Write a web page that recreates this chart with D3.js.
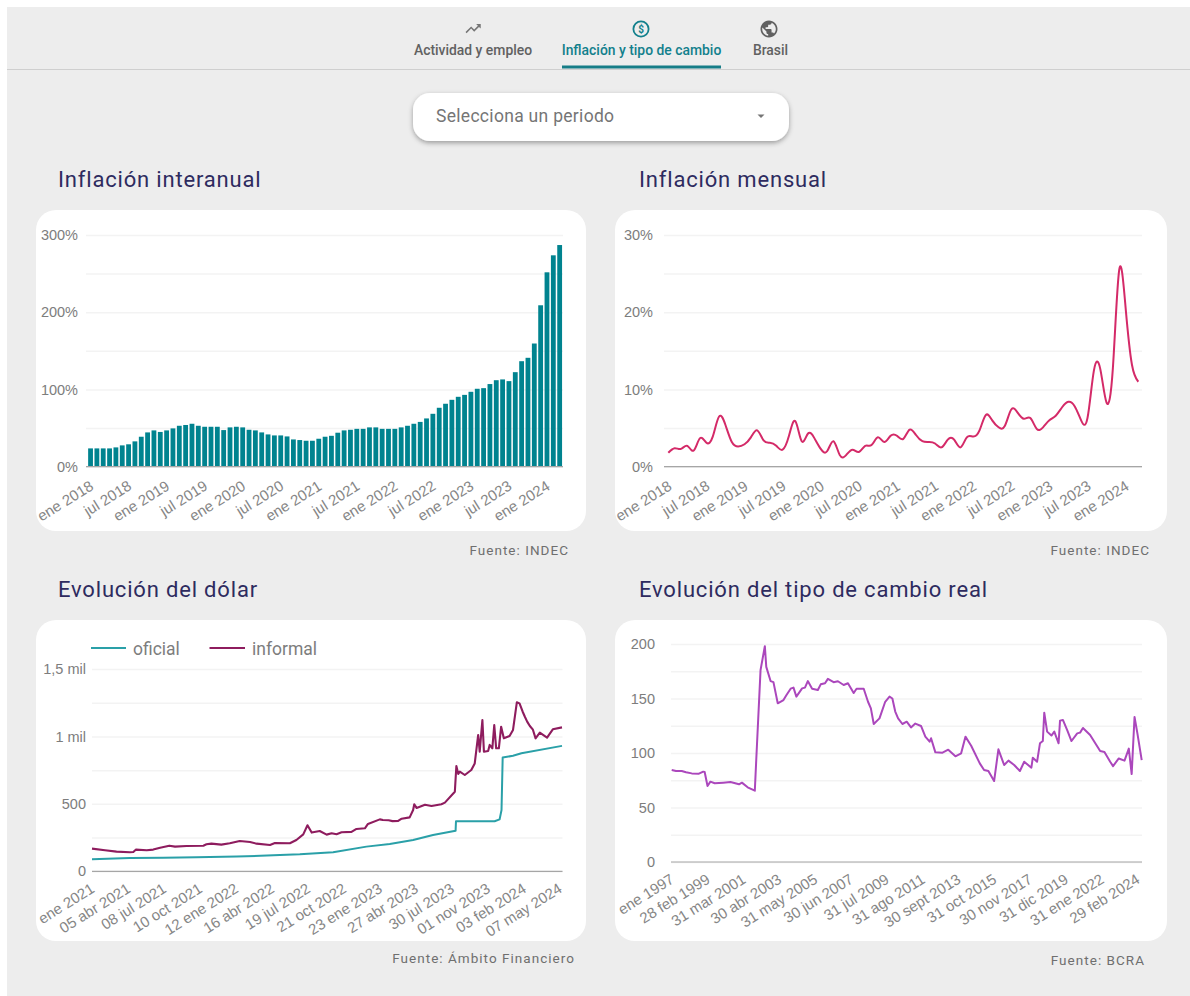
<!DOCTYPE html>
<html>
<head>
<meta charset="utf-8">
<script src="https://cdnjs.cloudflare.com/ajax/libs/d3/7.8.5/d3.min.js"></script>
<style>
    html, body { margin: 0; padding: 0; background: #fff; overflow: hidden; }
    svg { display: block; font-family: Roboto, sans-serif; }
    .tick text { fill: #7d7d7d; font-size: 14.5px; }
    .xaxis .tick text { fill: #868686; font-size: 15px; }
    .grid .tick line { stroke: #f3f3f3; stroke-width: 1.5; }
    .grid .domain, .xaxis .tick line { display: none; }
    .xaxis .domain { stroke: #a6a6a6; stroke-width: 1.2; }
    .titulo { fill: #2e2b5f; font-size: 22px; letter-spacing: 0.82px; }
    .fuente { fill: #6f6f6f; font-size: 13.5px; letter-spacing: 1.03px; text-anchor: end; }
    .tab { font-size: 13.9px; font-weight: 500; fill: #616161; text-anchor: middle; }
    .serie { fill: none; stroke-linejoin: round; }
</style>
</head>
<body>
<svg id="tablero" width="1190" height="996"></svg>
<script>
    // Inflacion interanual (%), ene 2018 - mar 2024
    var interanual = [
        23.7, 23.7, 23.7, 23.7, 25, 27.6, 29, 32.8, 38.8, 44.4, 47, 45,
        47, 49.6, 53, 54, 55.6, 53, 51.7, 51.7, 51.7, 47.4, 50.9, 51.7,
        50.9, 47.8, 47, 44.4, 41.8, 40.5, 40.5, 39.2, 35.3, 34.5, 33.6, 33.6,
        36.2, 38.8, 40, 44, 47, 47.8, 49, 49, 50.9, 50.9, 49, 49,
        49, 50.9, 53, 55.6, 58, 62.5, 68.5, 76.3, 81.5, 86.6, 90.5, 93,
        97, 100.9, 101.7, 107, 112, 113, 110.8, 122.4, 136.6, 141, 159.5, 209,
        251.7, 273.7, 287
    ];
    // Inflacion mensual (%), ene 2018 - mar 2024
    var mensual = [
        1.8, 2.4, 2.3, 2.7, 2.1, 3.7, 3.1, 3.9, 6.5, 5.4, 3.2, 2.6,
        2.9, 3.8, 4.7, 3.4, 3.1, 2.7, 2.2, 4.0, 5.9, 3.3, 4.3, 3.7,
        2.3, 2.0, 3.3, 1.5, 1.5, 2.2, 1.9, 2.7, 2.8, 3.8, 3.2, 4.0,
        4.0, 3.6, 4.8, 4.1, 3.3, 3.2, 3.0, 2.5, 3.5, 3.5, 2.5, 3.8,
        3.9, 4.7, 6.7, 6.0, 5.1, 5.3, 7.4, 7.0, 6.2, 6.3, 4.9, 5.1,
        6.0, 6.6, 7.7, 8.4, 7.8, 6.0, 6.3, 12.4, 12.7, 8.3, 12.8, 25.5,
        20.6, 13.2, 11.0
    ];
    var meses = ["ene", "feb", "mar", "abr", "may", "jun", "jul", "ago", "sept", "oct", "nov", "dic"];
    var periodos = interanual.map(function(d, i){ return meses[i % 12] + " " + (2018 + Math.floor(i / 12)); });

    // Dolar: dias desde el 1 ene 2021
    var oficialDias = [0, 99, 186, 273, 378, 491, 543, 630, 717, 778, 839, 891, 950, 951, 996, 1052, 1065, 1070, 1073, 1100, 1122, 1228];
    var oficial = [89, 99, 101, 104, 109, 121, 126, 141, 183, 203, 232, 269, 301, 371, 371, 371, 385, 455, 843, 857, 875, 930];
    var informalDias = [
        0, 34, 64, 99, 108, 115, 143, 160, 178, 202, 217, 247, 291, 299, 312, 338, 360, 386, 413, 430,
        465, 478, 517, 534, 552, 563, 574, 595, 613, 626, 639, 652, 678, 691, 713, 721, 752, 760, 775, 785,
        800, 809, 830, 839, 842, 848, 870, 887, 913, 922, 948, 952, 957, 961, 974, 991, 1000, 1009, 1013, 1020,
        1024, 1035, 1039, 1046, 1051, 1056, 1063, 1069, 1076, 1091, 1100, 1110, 1117, 1125, 1131, 1137, 1144, 1152, 1159, 1170,
        1189, 1204, 1228
    ];
    var informal = [
        168, 156, 146, 141, 143, 161, 156, 161, 175, 190, 183, 188, 190, 200, 205, 198, 208, 225, 217, 205,
        195, 210, 208, 232, 274, 341, 287, 299, 272, 282, 275, 289, 292, 314, 319, 351, 385, 380, 378, 372,
        373, 390, 400, 454, 497, 470, 494, 484, 497, 509, 590, 781, 722, 739, 714, 751, 800, 1011, 887, 1122,
        887, 892, 937, 912, 1085, 912, 912, 1072, 986, 1003, 1048, 1253, 1245, 1185, 1146, 1110, 1077, 1050, 986, 1028,
        991, 1053, 1067
    ];
    var dolarTickDias = [0, 94, 188, 282, 376, 470, 564, 658, 752, 846, 940, 1034, 1128, 1222];
    var dolarTicks = ["ene 2021", "05 abr 2021", "08 jul 2021", "10 oct 2021", "12 ene 2022", "16 abr 2022", "19 jul 2022",
        "21 oct 2022", "23 ene 2023", "27 abr 2023", "30 jul 2023", "01 nov 2023", "03 feb 2024", "07 may 2024"];

    // Tipo de cambio real: meses desde ene 1997
    var realMeses = [
        0, 3, 7, 10, 14, 19, 22, 23, 25, 27, 30, 36, 41, 47, 49, 53, 58, 59, 62, 65,
        66, 69, 71, 74, 78, 80, 83, 85, 87, 91, 93, 95, 98, 102, 104, 107, 109, 113, 116, 120,
        123, 127, 129, 134, 137, 139, 141, 145, 149, 152, 154, 156, 158, 161, 164, 167, 170, 174, 177, 180,
        181, 184, 189, 193, 198, 202, 205, 209, 215, 218, 221, 225, 228, 232, 235, 239, 243, 246, 251, 252,
        255, 257, 259, 260, 262, 265, 267, 270, 271, 273, 276, 279, 283, 285, 287, 292, 299, 302, 306, 308,
        312, 316, 319, 321, 323, 325, 328
    ];
    var real = [
        84.4, 83.5, 83.5, 82.3, 81.3, 81, 82.9, 82.6, 69.7, 73.7, 72.2, 72.8, 73.4, 71.3, 72.8, 68.5, 65.4, 93.6, 176, 198,
        179, 166, 165, 145.6, 148.6, 153, 159, 160, 151.7, 159.3, 160, 166, 159, 157.8, 163, 164, 168, 165, 165.8, 162.4,
        164, 155, 159, 159, 147, 141, 126.6, 131.8, 147, 151.7, 150, 138, 131.8, 126.6, 128.7, 123.5, 127, 124.8, 115, 110.4,
        113.5, 100.6, 100.3, 103, 97, 99.7, 115, 106.7, 90.5, 84.4, 83.5, 74.3, 103.4, 89, 93, 89, 83.5, 92, 86.5, 95.7,
        92, 108.9, 111, 137, 119.6, 116, 119.6, 108.9, 129.7, 130.3, 121, 111, 118, 118.7, 123, 116.5, 101.8, 101, 92, 88,
        95, 93, 104, 80.7, 133, 118, 93.5
    ];
    var realTickMeses = [0, 25, 50, 75, 100, 125, 150, 175, 200, 225, 250, 275, 300, 325];
    var realTicks = ["ene 1997", "28 feb 1999", "31 mar 2001", "30 abr 2003", "31 may 2005", "30 jun 2007", "31 jul 2009",
        "31 ago 2011", "30 sept 2013", "31 oct 2015", "30 nov 2017", "31 dic 2019", "31 ene 2022", "29 feb 2024"];

    var svg = d3.select("#tablero");

    var defs = svg.append("defs");
    var sombra = defs.append("filter").attr("id", "sombra")
        .attr("x", "-10%").attr("y", "-20%").attr("width", "120%").attr("height", "150%");
    sombra.append("feDropShadow").attr("dx", 0).attr("dy", 2).attr("stdDeviation", 2.5)
        .attr("flood-color", "#000").attr("flood-opacity", 0.35);

    // fondo
    svg.append("rect").attr("x", 7).attr("y", 7).attr("width", 1183).attr("height", 989).attr("fill", "#ededed");

    // pestanas
    svg.append("line").attr("x1", 7).attr("x2", 1190).attr("y1", 69.5).attr("y2", 69.5)
        .attr("stroke", "#cfcfcf").attr("stroke-width", 1);
    svg.append("rect").attr("x", 562).attr("y", 65.5).attr("width", 159).attr("height", 3).attr("fill", "#167d87");

    svg.append("path")
        .attr("d", "M16 6l2.29 2.29-4.88 4.88-4-4L2 16.59 3.41 18l6-6 4 4 6.3-6.29L22 12V6z")
        .attr("transform", "translate(464,19.5) scale(0.76)")
        .attr("fill", "#757575");
    svg.append("circle").attr("cx", 641).attr("cy", 29).attr("r", 7.6)
        .attr("fill", "none").attr("stroke", "#12808c").attr("stroke-width", 1.8);
    svg.append("text").attr("x", 641).attr("y", 32.5).attr("text-anchor", "middle")
        .attr("font-size", 10).attr("font-weight", 700).attr("fill", "#12808c").text("$");
    svg.append("path")
        .attr("d", "M12 2C6.48 2 2 6.48 2 12s4.48 10 10 10 10-4.48 10-10S17.52 2 12 2zm-1 17.93c-3.95-.49-7-3.85-7-7.93 0-.62.08-1.21.21-1.79L9 15v1c0 1.1.9 2 2 2v1.93zm6.9-2.54c-.26-.81-1-1.39-1.9-1.39h-1v-3c0-.55-.45-1-1-1H8v-2h2c.55 0 1-.45 1-1V7h2c1.1 0 2-.9 2-2v-.41c2.93 1.19 5 4.06 5 7.41 0 2.08-.8 3.97-2.1 5.39z")
        .attr("transform", "translate(758.8,18.8) scale(0.85)")
        .attr("fill", "#616161");

    svg.append("text").attr("class", "tab").attr("x", 473).attr("y", 55).text("Actividad y empleo");
    svg.append("text").attr("class", "tab").attr("x", 641.5).attr("y", 55)
        .style("fill", "#12808c").text("Inflación y tipo de cambio");
    svg.append("text").attr("class", "tab").attr("x", 770.5).attr("y", 55).text("Brasil");

    // selector
    svg.append("rect").attr("x", 413).attr("y", 93).attr("width", 376).attr("height", 48).attr("rx", 17)
        .attr("fill", "#fff").attr("filter", "url(#sombra)");
    svg.append("text").attr("x", 436).attr("y", 122).attr("font-size", 17.5).attr("letter-spacing", 0.3)
        .attr("fill", "#757575").text("Selecciona un periodo");
    svg.append("path").attr("d", "M757.5 114.5h7l-3.5 3.5z").attr("fill", "#757575");

    function tarjeta(x, w, y, h, titulo, tituloX, fuente, fuenteX, fuenteY)
    {
        svg.append("rect").attr("x", x).attr("y", y).attr("width", w).attr("height", h)
            .attr("rx", 20).attr("fill", "#fff");
        svg.append("text").attr("class", "titulo").attr("x", tituloX).attr("y", y - 23).text(titulo);
        svg.append("text").attr("class", "fuente").attr("x", fuenteX).attr("y", fuenteY).text(fuente);
    }

    function ejeY(y, x0, x1, valores, etiqueta, pad)
    {
        return svg.append("g").attr("class", "grid").attr("transform", "translate(" + x0 + ",0)")
            .call(d3.axisLeft(y).tickValues(valores).tickSize(-(x1 - x0)).tickPadding(pad).tickFormat(etiqueta));
    }

    function ejeX(x, y0, x0, x1, valores, etiqueta, dx, dy)
    {
        var g = svg.append("g").attr("class", "xaxis").attr("transform", "translate(0," + y0 + ")")
            .call(d3.axisBottom(x).tickValues(valores).tickSizeOuter(0).tickFormat(etiqueta));
        g.select(".domain").attr("d", "M" + x0 + ",0H" + x1);
        g.selectAll(".tick text")
            .attr("x", 0).attr("y", 0).attr("dy", 0)
            .attr("text-anchor", "end")
            .attr("transform", "translate(" + dx + "," + dy + ") rotate(-32)");
    }

    // --- Inflacion interanual ---
    tarjeta(36, 550, 210, 321, "Inflación interanual", 58, "Fuente: INDEC", 569, 555);
    var y1 = d3.scaleLinear().domain([0, 300]).range([466.7, 235]);
    var x1 = d3.scaleBand().domain(periodos).range([87.5, 562.7]).paddingInner(0.24).paddingOuter(0.1);
    ejeY(y1, 86, 563, d3.range(0, 301, 50), function(d){ return d % 100 ? "" : d + "%"; }, 8);
    svg.append("g").selectAll("rect").data(interanual).enter().append("rect")
        .attr("x", function(d, i){ return x1(periodos[i]); })
        .attr("width", x1.bandwidth())
        .attr("y", function(d){ return y1(d); })
        .attr("height", function(d){ return y1(0) - y1(d); })
        .attr("fill", "#00838f");
    ejeX(x1, 466.7, 86, 563, periodos.filter(function(d, i){ return i % 6 == 0; }),
        function(d){ return d; }, 4, 22);

    // --- Inflacion mensual ---
    tarjeta(615, 552, 210, 321, "Inflación mensual", 639, "Fuente: INDEC", 1150, 555);
    var y2 = d3.scaleLinear().domain([0, 30]).range([466.7, 235]);
    var x2 = d3.scalePoint().domain(periodos).range([668.3, 1138.3]);
    ejeY(y2, 664, 1142, d3.range(0, 31, 5), function(d){ return d % 10 ? "" : d + "%"; }, 11);
    ejeX(x2, 466.7, 664, 1142, periodos.filter(function(d, i){ return i % 6 == 0; }),
        function(d){ return d; }, 4, 22);
    svg.append("path").attr("class", "serie")
        .attr("stroke", "#d42a68").attr("stroke-width", 2)
        .attr("d", d3.line()
            .x(function(d, i){ return x2(periodos[i]); })
            .y(function(d){ return y2(d); })
            .curve(d3.curveNatural)(mensual));

    // --- Dolar ---
    tarjeta(36, 550, 620, 321, "Evolución del dólar", 58, "Fuente: Ámbito Financiero", 575, 963);
    var y3 = d3.scaleLinear().domain([0, 1500]).range([871.3, 669]);
    var x3 = d3.scaleLinear().domain([0, 1228]).range([92, 562]);
    ejeY(y3, 92, 562.5, d3.range(0, 1501, 250), function(d){
        if (d % 500) return "";
        return d >= 1000 ? String(d / 1000).replace(".", ",") + " mil" : d;
    }, 6);
    ejeX(x3, 871.3, 92, 562.5, dolarTickDias, function(d, i){ return dolarTicks[i]; }, 3, 20);
    var lineaDolar = function(dias){
        return d3.line().x(function(d, i){ return x3(dias[i]); }).y(function(d){ return y3(d); });
    };
    svg.append("path").attr("class", "serie").attr("stroke", "#2aa0a8").attr("stroke-width", 2)
        .attr("d", lineaDolar(oficialDias)(oficial));
    svg.append("path").attr("class", "serie").attr("stroke", "#8e1c5e").attr("stroke-width", 2.1)
        .attr("d", lineaDolar(informalDias)(informal));

    svg.append("line").attr("x1", 91).attr("x2", 126).attr("y1", 648).attr("y2", 648)
        .attr("stroke", "#2aa0a8").attr("stroke-width", 2);
    svg.append("text").attr("x", 133).attr("y", 655).attr("font-size", 17.5).attr("fill", "#7d7d7d").text("oficial");
    svg.append("line").attr("x1", 209.5).attr("x2", 245).attr("y1", 648).attr("y2", 648)
        .attr("stroke", "#8e1c5e").attr("stroke-width", 2);
    svg.append("text").attr("x", 252).attr("y", 655).attr("font-size", 17.5).attr("fill", "#7d7d7d").text("informal");

    // --- Tipo de cambio real ---
    tarjeta(615, 552, 620, 321, "Evolución del tipo de cambio real", 639, "Fuente: BCRA", 1145, 965);
    var y4 = d3.scaleLinear().domain([0, 200]).range([862, 644]);
    var x4 = d3.scaleLinear().domain([0, 328]).range([671.7, 1141.7]);
    ejeY(y4, 671, 1142, d3.range(0, 201, 25), function(d){ return d % 50 ? "" : d; }, 16);
    ejeX(x4, 862, 671, 1142, realTickMeses, function(d, i){ return realTicks[i]; }, 3, 20);
    svg.append("path").attr("class", "serie").attr("stroke", "#ab47bc").attr("stroke-width", 2)
        .attr("d", d3.line()
            .x(function(d, i){ return x4(realMeses[i]); })
            .y(function(d){ return y4(d); })(real));
</script>
</body>
</html>
